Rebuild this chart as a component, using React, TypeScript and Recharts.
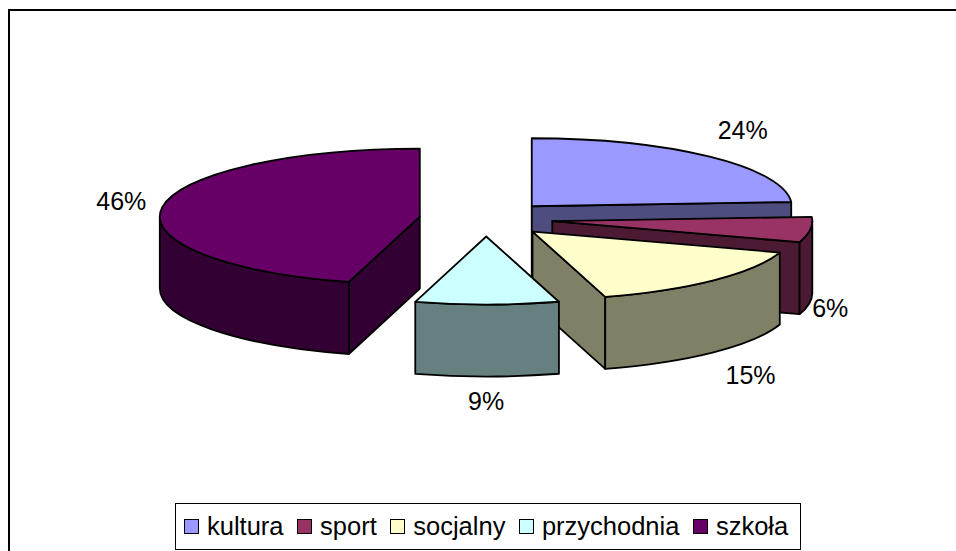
import React from 'react';
import { Legend, Pie, PieChart } from 'recharts';

const CATEGORIES = ['kultura', 'sport', 'socjalny', 'przychodnia', 'szkoła'];
const SHARES = [24, 6, 15.49, 8.91, 45.6];
const COLORS = ['#9999FF', '#993366', '#FFFFCC', '#CCFFFF', '#660066'];

// Excel-style 3D look: the flat pie is squashed, pulled apart and given a wall.
const TILT = 68 / 260;
const EXPLODE = 0.257;
const DEPTH = 72;
const FONT = '"Liberation Sans", Arial, sans-serif';
// Per-slice label shift away from the rim, same order as CATEGORIES.
const LABEL_NUDGE = [
  [33, -27],
  [20, 6],
  [37, 23],
  [-1, 25],
  [-41, -6],
];

const chartData = CATEGORIES.map((name, i) => ({
  name,
  value: SHARES[i],
  fill: COLORS[i],
}));

// #9999FF -> #4D4D80, the walls are the top colour at half brightness.
function darken(hex: string): string {
  const channels = [1, 3, 5].map((i) =>
    Math.round(parseInt(hex.slice(i, i + 2), 16) / 2)
      .toString(16)
      .padStart(2, '0'),
  );
  return `#${channels.join('')}`;
}

// Point on the squashed circle, angle in the usual math convention.
function onEllipse(cx: number, cy: number, r: number, deg: number) {
  const a = (deg * Math.PI) / 180;
  return { x: cx + r * Math.cos(a), y: cy - r * TILT * Math.sin(a) };
}

function Slice3D(props: any) {
  const { cx, cy, outerRadius: r, startAngle, endAngle, fill } = props;
  const mid = (startAngle + endAngle) / 2;
  const apex = onEllipse(cx, cy, r * EXPLODE, mid);
  const p = (deg: number) => onEllipse(apex.x, apex.y, r, deg);
  const start = p(startAngle);
  const end = p(endAngle);
  const ry = r * TILT;
  const large = Math.abs(startAngle - endAngle) > 180 ? 1 : 0;
  const side = darken(fill);
  const common = { stroke: '#000', strokeWidth: 1.8, strokeLinejoin: 'round' as const };

  const face = (q: { x: number; y: number }) =>
    `M${apex.x},${apex.y} L${q.x},${q.y} L${q.x},${q.y + DEPTH} L${apex.x},${apex.y + DEPTH} Z`;

  // a cut face shows only when it turns towards the viewer
  const startVisible = Math.cos((startAngle * Math.PI) / 180) < -1e-6;
  const endVisible = Math.cos((endAngle * Math.PI) / 180) > 1e-6;

  // the rim is visible on the front half only (0 to -180)
  const a = Math.min(startAngle, 0);
  const b = Math.max(endAngle, -180);
  let rim = '';
  if (a > b) {
    const pa = p(a);
    const pb = p(b);
    rim = `M${pa.x},${pa.y} A${r},${ry} 0 0 1 ${pb.x},${pb.y} L${pb.x},${pb.y + DEPTH} A${r},${ry} 0 0 0 ${pa.x},${pa.y + DEPTH} Z`;
  }

  return (
    <g>
      {startVisible && <path d={face(start)} fill={side} {...common} />}
      {endVisible && <path d={face(end)} fill={side} {...common} />}
      {rim && <path d={rim} fill={side} {...common} />}
      <path
        d={`M${apex.x},${apex.y} L${start.x},${start.y} A${r},${ry} 0 ${large} 1 ${end.x},${end.y} Z`}
        fill={fill}
        {...common}
      />
    </g>
  );
}

function SliceLabel(props: any) {
  const { cx, cy, outerRadius: r, midAngle, percent, index } = props;
  const apex = onEllipse(cx, cy, r * EXPLODE, midAngle);
  const rimPoint = onEllipse(apex.x, apex.y, r, midAngle);
  // labels of front slices sit under the wall
  const lower = rimPoint.y > apex.y;
  const [dx, dy] = LABEL_NUDGE[index];
  return (
    <text
      x={rimPoint.x + dx}
      y={rimPoint.y + (lower ? DEPTH : 0) + dy}
      textAnchor="middle"
      dominantBaseline="central"
      fontFamily={FONT}
      fontSize={25}
      fill="#000"
    >
      {`${Math.round(percent * 100)}%`}
    </text>
  );
}

function LegendBox({ payload }: any) {
  return (
    <div
      style={{
        display: 'flex',
        alignItems: 'center',
        gap: 13.5,
        boxSizing: 'border-box',
        width: 626,
        height: 47,
        paddingLeft: 8,
        border: '1.5px solid #000',
        background: '#fff',
        fontFamily: FONT,
        fontSize: 25.5,
        color: '#000',
        whiteSpace: 'nowrap',
      }}
    >
      {(payload ?? []).map((item: any) => (
        <span key={item.value} style={{ display: 'flex', alignItems: 'center', gap: 8 }}>
          <span
            style={{
              display: 'inline-block',
              boxSizing: 'border-box',
              width: 15,
              height: 15,
              background: item.color,
              border: '1.5px solid #000',
            }}
          />
          {item.value}
        </span>
      ))}
    </div>
  );
}

export default function App() {
  return (
    <div style={{ position: 'absolute', left: 0, top: 0, width: 956, height: 551, overflow: 'hidden', background: '#fff' }}>
      <div
        style={{
          position: 'absolute',
          left: 8,
          top: 9,
          width: 948,
          height: 542,
          boxSizing: 'border-box',
          borderTop: '2px solid #000',
          borderLeft: '2px solid #000',
        }}
      />
      <PieChart width={956} height={551} margin={{ top: 0, right: 0, bottom: 0, left: 0 }} style={{ position: 'absolute', left: 0, top: 0 }}>
        <Pie
          data={chartData}
          dataKey="value"
          nameKey="name"
          cx={486}
          cy={219}
          outerRadius={260}
          startAngle={90}
          endAngle={-270}
          isAnimationActive={false}
          shape={Slice3D}
          label={SliceLabel}
          labelLine={false}
        />
        <Legend
          content={LegendBox}
          itemSorter={null}
          wrapperStyle={{ position: 'absolute', left: 175, top: 503, width: 626, bottom: 'auto' }}
        />
      </PieChart>
    </div>
  );
}
